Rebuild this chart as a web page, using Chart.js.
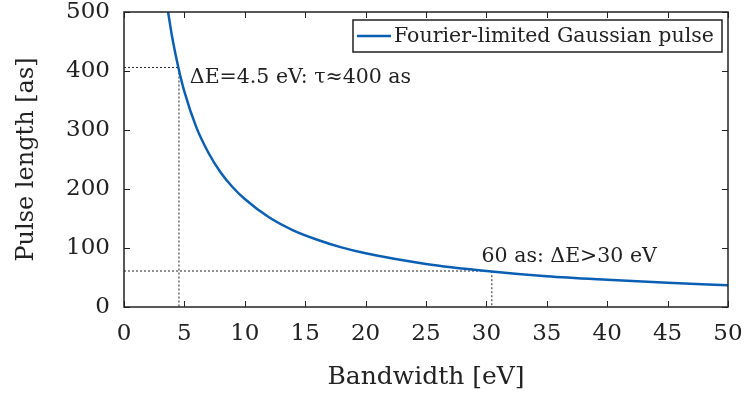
<!DOCTYPE html>
<html lang="en">
<head>
  <meta charset="UTF-8">
  <title>Pulse length vs bandwidth</title>
  <script src="https://cdn.jsdelivr.net/npm/chart.js@4/dist/chart.umd.min.js"></script>
  <style>
    html, body { margin: 0; padding: 0; background: #fff; }
    #wrap { width: 744px; height: 396px; }
  </style>
</head>
<body>
  <div id="wrap"><canvas id="chart"></canvas></div>
  <script>
    // values
    const bandwidth = [3.65, 4, 4.5, 5, 6, 7, 8, 9, 10, 12, 14, 16, 18, 20, 25, 30, 35, 40, 45, 50];
    const pulseLength = [500, 456, 406, 365, 304, 261, 228, 203, 183, 152, 130, 114, 101, 91, 73, 61, 52, 46, 41, 37];
    const xTicks = [0, 5, 10, 15, 20, 25, 30, 35, 40, 45, 50];
    const yTicks = [0, 100, 200, 300, 400, 500];
    // dotted guide lines
    const guideA = [{x: 0, y: 406}, {x: 4.55, y: 406}, {x: 4.55, y: 0}];
    const guideB = [{x: 0, y: 61}, {x: 30.45, y: 61}, {x: 30.45, y: 0}];
    const legendText = 'Fourier-limited Gaussian pulse';
    const noteA = 'ΔE=4.5 eV: τ≈400 as';
    const noteB = '60 as: ΔE>30 eV';

    const FONT = '"DejaVu Serif", "Liberation Serif", serif';
    const BLUE = '#0b5fb3';
    const INK = '#222';

    const frame = {
      id: 'frame',
      afterDraw(chart) {
        const {ctx, chartArea: a, scales} = chart;
        ctx.save();
        ctx.strokeStyle = INK;
        ctx.lineWidth = 1.5;
        ctx.strokeRect(a.left, a.top, a.right - a.left, a.bottom - a.top);
        ctx.lineWidth = 1;
        ctx.beginPath();
        xTicks.forEach(v => {
          const px = Math.round(scales.x.getPixelForValue(v)) + 0.5;
          ctx.moveTo(px, a.bottom); ctx.lineTo(px, a.bottom - 6);
          ctx.moveTo(px, a.top); ctx.lineTo(px, a.top + 6);
        });
        yTicks.forEach(v => {
          const py = Math.round(scales.y.getPixelForValue(v)) + 0.5;
          ctx.moveTo(a.left, py); ctx.lineTo(a.left + 6, py);
          ctx.moveTo(a.right, py); ctx.lineTo(a.right - 6, py);
        });
        ctx.stroke();

        // annotations
        ctx.fillStyle = INK;
        ctx.font = '20.5px ' + FONT;
        ctx.textBaseline = 'alphabetic';
        ctx.textAlign = 'left';
        ctx.fillText(noteA, scales.x.getPixelForValue(5.45), scales.y.getPixelForValue(380));
        ctx.fillText(noteB, scales.x.getPixelForValue(29.6), scales.y.getPixelForValue(76));

        // legend box
        const bx0 = 353, bx1 = a.right - 6, by1 = a.top + 8, bh = 32;
        ctx.fillStyle = '#fff';
        ctx.fillRect(bx0, by1, bx1 - bx0, bh);
        ctx.strokeStyle = INK;
        ctx.lineWidth = 1.5;
        ctx.strokeRect(bx0, by1, bx1 - bx0, bh);
        ctx.strokeStyle = BLUE;
        ctx.lineWidth = 2.5;
        ctx.beginPath();
        ctx.moveTo(bx0 + 4, by1 + bh / 2);
        ctx.lineTo(bx0 + 38, by1 + bh / 2);
        ctx.stroke();
        ctx.fillStyle = INK;
        ctx.textBaseline = 'middle';
        ctx.fillText(legendText, bx0 + 41, by1 + bh / 2 + 1);
        ctx.restore();
      }
    };

    new Chart(document.getElementById('chart'), {
      type: 'line',
      data: {
        datasets: [
          {
            label: legendText,
            data: bandwidth.map((x, i) => ({x, y: pulseLength[i]})),
            borderColor: BLUE,
            borderWidth: 2.5,
            pointRadius: 0,
            cubicInterpolationMode: 'monotone',
            fill: false
          },
          {
            data: guideA,
            borderColor: INK,
            borderWidth: 1,
            borderDash: [2, 2],
            pointRadius: 0,
            tension: 0
          },
          {
            data: guideB,
            borderColor: INK,
            borderWidth: 1,
            borderDash: [2, 2],
            pointRadius: 0,
            tension: 0
          }
        ]
      },
      options: {
        responsive: true,
        maintainAspectRatio: false,
        animation: false,
        layout: {padding: {left: 0, top: 12, right: 16, bottom: 0}},
        plugins: {legend: {display: false}, tooltip: {enabled: false}},
        scales: {
          x: {
            type: 'linear',
            min: 0, max: 50,
            afterBuildTicks: s => { s.ticks = xTicks.map(v => ({value: v})); },
            afterFit: s => { s.height = 89; s.paddingLeft = 0; s.paddingRight = 0; },
            grid: {display: false},
            border: {display: false},
            ticks: {color: INK, font: {family: FONT, size: 23}, padding: 5, maxRotation: 0},
            title: {display: true, text: 'Bandwidth [eV]', color: INK,
                    font: {family: FONT, size: 25}, padding: {top: 10}}
          },
          y: {
            type: 'linear',
            min: 0, max: 500,
            afterBuildTicks: s => { s.ticks = yTicks.map(v => ({value: v})); },
            afterFit: s => { s.width = 124; s.paddingTop = 0; s.paddingBottom = 0; },
            grid: {display: false},
            border: {display: false},
            ticks: {color: INK, font: {family: FONT, size: 23}, padding: 6},
            title: {display: true, text: 'Pulse length [as]', color: INK,
                    font: {family: FONT, size: 24}, padding: {top: 12, bottom: 0}}
          }
        }
      },
      plugins: [frame]
    });
  </script>
</body>
</html>
